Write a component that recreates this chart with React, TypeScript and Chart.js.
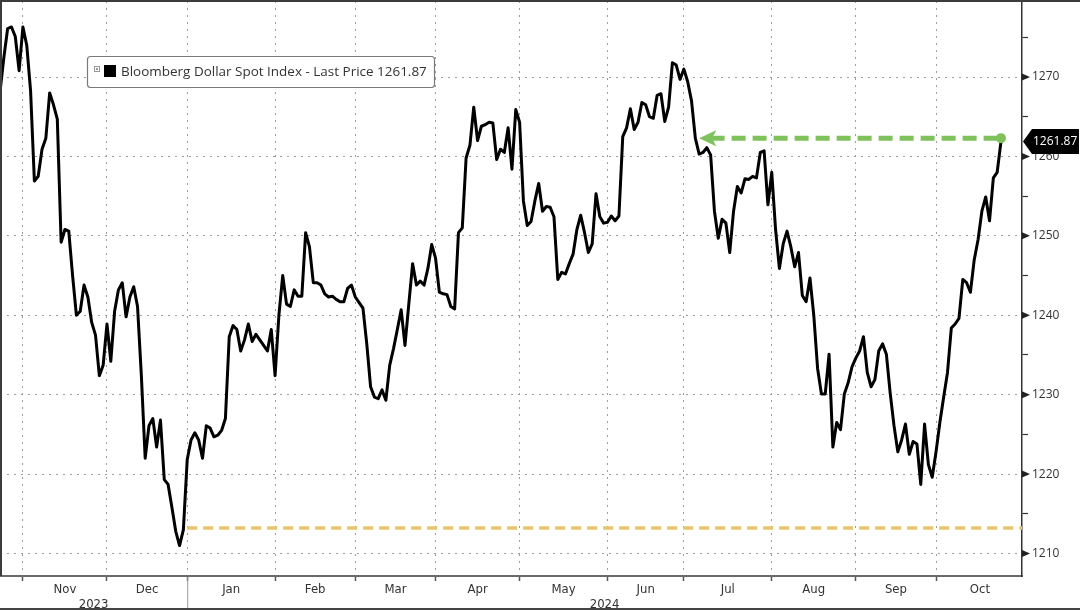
import { useEffect, useRef } from "react";
import { Chart, registerables } from "chart.js";

Chart.register(...registerables);

// ---- data ----
const seriesName = "Bloomberg Dollar Spot Index - Last Price";
const firstDate = "2023-10-24"; // first weekday plotted, one close per weekday after it
const closes = [
  1268.1, 1272.4, 1276.1, 1276.3, 1275.1, 1270.8, 1276.3, 1274.0, 1268.3, 1256.9,
  1257.5, 1260.9, 1262.3, 1268.0, 1266.5, 1264.7, 1249.2, 1250.8, 1250.6, 1245.0,
  1240.0, 1240.5, 1243.8, 1242.3, 1239.1, 1237.5, 1232.4, 1233.7, 1238.9, 1234.2,
  1240.5, 1243.2, 1244.1, 1239.8, 1242.3, 1243.6, 1241.1, 1232.4, 1222.0, 1226.1,
  1227.0, 1223.4, 1226.8, 1219.3, 1218.7, 1215.8, 1212.8, 1211.0, 1213.0, 1221.8,
  1224.3, 1225.2, 1224.3, 1222.0, 1226.1, 1225.8, 1224.7, 1224.9, 1225.5, 1227.0,
  1237.3, 1238.7, 1238.2, 1235.5, 1236.9, 1238.9, 1236.7, 1237.6, 1236.9, 1236.2,
  1235.5, 1238.2, 1232.4, 1240.0, 1245.0, 1241.4, 1241.1, 1243.2, 1242.4, 1242.4,
  1250.4, 1248.6, 1244.1, 1244.1, 1243.8, 1242.7, 1242.3, 1242.4, 1242.0, 1241.7,
  1241.7, 1243.4, 1243.8, 1242.3, 1241.6, 1240.9, 1236.4, 1231.0, 1229.7, 1229.5,
  1230.6, 1229.3, 1233.7, 1235.8, 1238.2, 1240.7, 1236.2, 1241.4, 1246.5, 1243.8,
  1244.3, 1243.8, 1245.9, 1248.9, 1247.2, 1242.9, 1242.7, 1242.6, 1241.1, 1240.8,
  1250.4, 1251.0, 1259.8, 1261.4, 1266.2, 1262.0, 1263.8, 1264.0, 1264.3, 1264.2,
  1259.6, 1260.9, 1260.5, 1263.6, 1258.4, 1265.9, 1264.3, 1254.4, 1251.3, 1251.8,
  1254.4, 1256.6, 1253.1, 1253.7, 1253.6, 1252.4, 1244.5, 1245.4, 1245.2, 1246.5,
  1247.7, 1250.8, 1252.6, 1250.4, 1247.9, 1249.0, 1255.3, 1252.4, 1251.6, 1251.7,
  1252.5, 1251.9, 1252.5, 1262.5, 1263.6, 1266.0, 1263.4, 1264.3, 1266.8, 1266.5,
  1265.0, 1264.8, 1267.7, 1267.9, 1264.4, 1266.2, 1271.8, 1271.5, 1269.7, 1271.0,
  1269.4, 1267.0, 1262.3, 1260.3, 1260.5, 1261.1, 1260.2, 1253.1, 1249.7, 1252.1,
  1251.6, 1247.9, 1253.1, 1256.2, 1255.4, 1257.2, 1257.1, 1257.5, 1257.3, 1260.5,
  1260.7, 1253.9, 1258.0, 1250.8, 1245.9, 1249.0, 1250.6, 1248.6, 1246.1, 1247.9,
  1242.5, 1241.7, 1244.7, 1240.0, 1233.3, 1230.1, 1230.1, 1235.1, 1223.4, 1226.5,
  1225.6, 1230.1, 1231.5, 1233.5, 1234.6, 1235.5, 1237.3, 1232.8, 1231.0, 1231.9,
  1235.5, 1236.4, 1235.1, 1230.2, 1226.1, 1222.8, 1224.3, 1226.3, 1222.5, 1224.1,
  1223.8, 1218.7, 1226.3, 1221.2, 1219.6, 1222.8, 1226.5, 1229.7, 1232.8, 1238.4,
  1238.9, 1239.6, 1244.5, 1244.1, 1242.9, 1247.0, 1249.5, 1253.1, 1254.9, 1251.9,
  1257.3, 1258.0, 1261.87,
];

const monthNames = ["Nov", "Dec", "Jan", "Feb", "Mar", "Apr", "May", "Jun", "Jul", "Aug", "Sep", "Oct"];
const monthStarts = [
  "2023-11-01", "2023-12-01", "2024-01-01", "2024-02-01", "2024-03-01", "2024-04-01",
  "2024-05-01", "2024-06-01", "2024-07-01", "2024-08-01", "2024-09-01", "2024-10-01",
  "2024-11-01",
];
const yearLabels = ["2023", "2024"];
const yearStarts = ["2023-10-24", "2024-01-01", "2024-11-01"];

const yTicks = [1210, 1220, 1230, 1240, 1250, 1260, 1270];
const yMinorTicks = [1215, 1225, 1235, 1245, 1255, 1265, 1275];
const yMin = 1207.17;
const yMax = 1279.57;

const lowLevel = 1213.2;
const lowFrom = "2024-01-01";
const arrowLevel = 1262.3;
const arrowTip = "2024-07-05";

// ---- helpers ----
const DAY = 86400000;
function weekdayIndex(iso: string) {
  const start = Date.parse(firstDate + "T00:00:00Z");
  const end = Date.parse(iso + "T00:00:00Z");
  let n = 0;
  for (let t = start; t < end; t += DAY) {
    const wd = new Date(t).getUTCDay();
    if (wd !== 0 && wd !== 6) n++;
  }
  return n;
}

const startIdx = monthStarts.map(weekdayIndex);
const xMax = startIdx[startIdx.length - 1] - 0.5;
const lastIdx = closes.length - 1;
const lastClose = closes[lastIdx];

const narrowFont = "'DejaVu Sans Condensed', 'Liberation Sans Narrow', 'Roboto Condensed', sans-serif";
const plainFont = "'Open Sans', 'Liberation Sans', sans-serif";
const green = "#7fc25b";
const sand = "#e8c46c";

// stop Chart.js from reserving room for half labels at the edges
const noPad = (s: any) => {
  s.paddingLeft = 0;
  s.paddingRight = 0;
  s.paddingTop = 0;
  s.paddingBottom = 0;
};

const decor = {
  id: "decor",
  afterDraw(chart: any) {
    const { ctx, chartArea: a, scales } = chart;
    const x = scales.x;
    const y = scales.y;
    const W = chart.width;
    const H = chart.height;
    ctx.save();

    // frame
    ctx.strokeStyle = "#3c3c3c";
    ctx.lineWidth = 2;
    ctx.beginPath();
    ctx.moveTo(0, 1);
    ctx.lineTo(W, 1);
    ctx.moveTo(1, 0);
    ctx.lineTo(1, a.bottom);
    ctx.stroke();
    ctx.strokeStyle = "#444";
    ctx.beginPath();
    ctx.moveTo(0, H - 1);
    ctx.lineTo(W, H - 1);
    ctx.stroke();

    // major tick arrows on the right axis
    ctx.fillStyle = "#222";
    for (const v of yTicks) {
      const py = y.getPixelForValue(v);
      ctx.beginPath();
      ctx.moveTo(a.right, py - 3.5);
      ctx.lineTo(a.right + 8, py);
      ctx.lineTo(a.right, py + 3.5);
      ctx.closePath();
      ctx.fill();
    }

    // year row
    const sep = x.getPixelForValue(weekdayIndex(yearStarts[1]));
    ctx.strokeStyle = "#9a9a9a";
    ctx.lineWidth = 1;
    ctx.beginPath();
    ctx.moveTo(sep + 0.5, a.bottom + 1);
    ctx.lineTo(sep + 0.5, H - 2);
    ctx.stroke();
    ctx.fillStyle = "#333";
    ctx.font = `13px ${narrowFont}`;
    ctx.textAlign = "center";
    ctx.textBaseline = "alphabetic";
    yearLabels.forEach((lbl, i) => {
      const x0 = Math.max(a.left, x.getPixelForValue(weekdayIndex(yearStarts[i])));
      const x1 = Math.min(a.right, x.getPixelForValue(weekdayIndex(yearStarts[i + 1])));
      ctx.fillText(lbl, (x0 + x1) / 2, H - 2);
    });

    // arrow head of the green marker
    const tx = x.getPixelForValue(weekdayIndex(arrowTip));
    const ty = y.getPixelForValue(arrowLevel);
    ctx.fillStyle = green;
    ctx.beginPath();
    ctx.moveTo(tx, ty);
    ctx.lineTo(tx + 17, ty - 8);
    ctx.lineTo(tx + 13, ty);
    ctx.lineTo(tx + 17, ty + 8);
    ctx.closePath();
    ctx.fill();

    // last price tag
    const py = y.getPixelForValue(lastClose);
    ctx.fillStyle = "#000";
    ctx.beginPath();
    ctx.moveTo(a.right + 1, py);
    ctx.lineTo(a.right + 10, py - 12.5);
    ctx.lineTo(W - 1, py - 12.5);
    ctx.lineTo(W - 1, py + 12.5);
    ctx.lineTo(a.right + 10, py + 12.5);
    ctx.closePath();
    ctx.fill();
    ctx.fillStyle = "#fff";
    ctx.font = `12px ${plainFont}`;
    ctx.textAlign = "left";
    ctx.textBaseline = "middle";
    ctx.fillText(lastClose.toFixed(2), a.right + 11, py + 0.5);

    // legend box
    const lx = a.left + 87;
    const ly = a.top + 55;
    const lw = 347;
    const lh = 31;
    ctx.fillStyle = "#fff";
    ctx.strokeStyle = "#7a7a7a";
    ctx.lineWidth = 1.2;
    ctx.beginPath();
    ctx.roundRect(lx + 0.5, ly + 0.5, lw, lh, 3);
    ctx.fill();
    ctx.stroke();
    ctx.strokeStyle = "#999";
    ctx.lineWidth = 1;
    ctx.strokeRect(lx + 7.5, ly + 10.5, 5, 5);
    ctx.fillStyle = "#999";
    ctx.fillRect(lx + 9, ly + 12, 2, 2);
    ctx.fillStyle = "#000";
    ctx.fillRect(lx + 17, ly + 9, 12, 12);
    const text = `${seriesName} ${lastClose.toFixed(2)}`;
    ctx.font = `13px ${plainFont}`;
    const tw = ctx.measureText(text).width;
    const size = Math.min(14, 13 * (306 / tw));
    ctx.font = `${size.toFixed(2)}px ${plainFont}`;
    ctx.fillStyle = "#333";
    ctx.textBaseline = "middle";
    ctx.fillText(text, lx + 34, ly + 16);

    ctx.restore();
  },
};

export default function App() {
  const canvasRef = useRef<HTMLCanvasElement>(null);

  useEffect(() => {
    const monthCenters = monthNames.map((_, i) => (startIdx[i] + startIdx[i + 1]) / 2);
    const points = closes.map((v, i) => ({ x: i, y: v }));

    const chart = new Chart(canvasRef.current!, {
      type: "line",
      data: {
        datasets: [
          {
            label: "arrow",
            data: [
              { x: weekdayIndex(arrowTip) + 3, y: arrowLevel },
              { x: lastIdx, y: arrowLevel },
            ],
            borderColor: green,
            borderWidth: 5,
            borderDash: [14, 7],
            pointRadius: [0, 5],
            pointBackgroundColor: green,
            pointBorderWidth: 0,
            order: 0,
          },
          {
            label: seriesName,
            data: points,
            borderColor: "#000",
            borderWidth: 3,
            borderJoinStyle: "round",
            pointRadius: 0,
            order: 1,
          },
          {
            label: "low",
            data: [
              { x: weekdayIndex(lowFrom), y: lowLevel },
              { x: xMax, y: lowLevel },
            ],
            borderColor: sand,
            borderWidth: 3.5,
            borderDash: [10, 6],
            pointRadius: 0,
            order: 2,
          },
        ] as any,
      },
      options: {
        animation: false,
        responsive: false,
        maintainAspectRatio: false,
        layout: { autoPadding: false, padding: { top: 1, left: 0, right: 0, bottom: 0 } },
        plugins: { legend: { display: false }, tooltip: { enabled: false } },
        scales: {
          x: {
            type: "linear",
            position: "bottom",
            min: 0,
            max: xMax,
            afterBuildTicks: (s: any) => {
              s.ticks = startIdx.slice(0, -1).map((v) => ({ value: v }));
            },
            afterFit: (s: any) => {
              s.height = 5;
              noPad(s);
            },
            ticks: { display: false },
            grid: {
              color: "#9c9c9c",
              lineWidth: 1,
              tickLength: 5,
              tickColor: "#555",
              tickWidth: 1.5,
            },
            border: { display: true, color: "#6a6a6a", width: 2, dash: [2, 5] },
          },
          xMonth: {
            type: "linear",
            position: "bottom",
            min: 0,
            max: xMax,
            afterBuildTicks: (s: any) => {
              s.ticks = monthCenters.map((v) => ({ value: v }));
            },
            afterFit: (s: any) => {
              s.height = 29;
              noPad(s);
            },
            ticks: {
              autoSkip: false,
              maxRotation: 0,
              padding: 1,
              color: "#333",
              font: { family: narrowFont, size: 13 },
              callback: (_v: any, i: number) => monthNames[i],
            },
            grid: { display: false, drawTicks: false },
            border: { display: false },
          },
          y: {
            type: "linear",
            position: "right",
            min: yMin,
            max: yMax,
            afterBuildTicks: (s: any) => {
              s.ticks = [...yTicks, ...yMinorTicks].sort((p, q) => p - q).map((v) => ({ value: v }));
            },
            afterFit: (s: any) => {
              s.width = 58;
              noPad(s);
            },
            ticks: {
              padding: 4,
              color: "#333",
              font: { family: plainFont, size: 12 },
              callback: (v: any) => (yTicks.includes(Number(v)) ? String(v) : ""),
            },
            grid: {
              color: (c: any) => (yTicks.includes(c.tick?.value) ? "#9c9c9c" : "rgba(0,0,0,0)"),
              lineWidth: 1,
              tickLength: 6,
              tickColor: "#333",
              tickWidth: 1.2,
            },
            border: { display: true, color: "#333", width: 1.5, dash: [2, 5] },
          },
        },
      },
      plugins: [decor],
    });

    return () => chart.destroy();
  }, []);

  return (
    <div style={{ position: "fixed", left: 0, top: 0, width: 1080, height: 610, background: "#fff" }}>
      <canvas ref={canvasRef} width={1080} height={610} style={{ display: "block" }} />
    </div>
  );
}
